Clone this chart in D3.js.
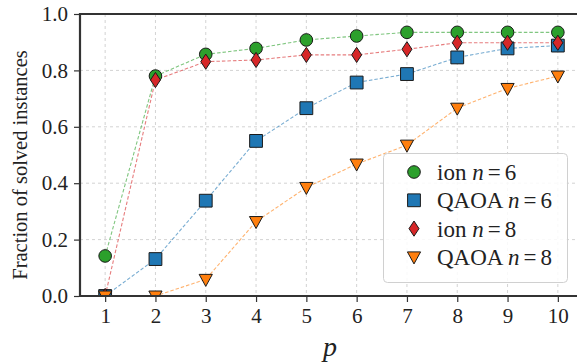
<!DOCTYPE html>
<html>
<head>
<meta charset="utf-8">
<script src="https://cdn.jsdelivr.net/npm/d3@7"></script>
<style>
  html, body { margin: 0; padding: 0; background: #fff; }
  svg { display: block; font-family: "Liberation Serif", "Times New Roman", serif; }
  svg text { font-family: "Liberation Serif", "Times New Roman", serif !important; }
</style>
</head>
<body>
<svg id="chart" width="577" height="362"></svg>
<script>
// ---- data ----
const pValues = [1, 2, 3, 4, 5, 6, 7, 8, 9, 10];
const ionN6   = [0.142, 0.78, 0.857, 0.878, 0.908, 0.922, 0.935, 0.935, 0.935, 0.935];
const qaoaN6  = [0.0, 0.131, 0.338, 0.55, 0.666, 0.757, 0.787, 0.846, 0.878, 0.888];
const ionN8   = [0.0, 0.766, 0.831, 0.837, 0.855, 0.855, 0.875, 0.898, 0.898, 0.898];
const qaoaN8  = [0.0, 0.0, 0.059, 0.264, 0.385, 0.468, 0.535, 0.666, 0.736, 0.78];
const yTicks  = [0.0, 0.2, 0.4, 0.6, 0.8, 1.0];
const xTicks  = [1, 2, 3, 4, 5, 6, 7, 8, 9, 10];
const seriesNames = ["ion", "QAOA", "ion", "QAOA"];
const seriesN = ["6", "6", "8", "8"];

const series = [
  { name: seriesNames[0], n: seriesN[0], values: ionN6,  color: "#2ca02c", marker: "circle" },
  { name: seriesNames[1], n: seriesN[1], values: qaoaN6, color: "#1f77b4", marker: "square" },
  { name: seriesNames[2], n: seriesN[2], values: ionN8,  color: "#d62728", marker: "diamond" },
  { name: seriesNames[3], n: seriesN[3], values: qaoaN8, color: "#ff7f0e", marker: "triangle" }
];

const svg = d3.select("#chart");
const pL = 80, pR = 583, pT = 14, pB = 296;
const x = d3.scaleLinear().domain([0.5, 10.5]).range([pL, pR]);
const y = d3.scaleLinear().domain([0, 1]).range([pB, pT]);

// clip
svg.append("defs").append("clipPath").attr("id", "plotclip")
  .append("rect").attr("x", pL).attr("y", pT).attr("width", pR - pL).attr("height", pB - pT);

// grid
const grid = svg.append("g");
grid.selectAll("line.gx").data(xTicks).enter().append("line")
  .attr("x1", d => x(d)).attr("x2", d => x(d)).attr("y1", pT).attr("y2", pB)
  .attr("stroke", "#d3d3d3").attr("stroke-width", 1).attr("stroke-dasharray", "3,3");
grid.selectAll("line.gy").data(yTicks).enter().append("line")
  .attr("x1", pL).attr("x2", pR).attr("y1", d => y(d)).attr("y2", d => y(d))
  .attr("stroke", "#d3d3d3").attr("stroke-width", 1).attr("stroke-dasharray", "3,3");

// marker paths
function markerPath(type) {
  switch (type) {
    case "circle": return d3.symbol(d3.symbolCircle, Math.PI * 6.3 * 6.3)();
    case "square": return "M-6.4,-6.4L6.4,-6.4L6.4,6.4L-6.4,6.4Z";
    case "diamond": return "M0,-7.6L5,0L0,7.6L-5,0Z";
    case "triangle": return "M-6.6,-5L6.6,-5L0,7Z";
  }
}

const plot = svg.append("g").attr("clip-path", "url(#plotclip)");
const line = d3.line().x((d, i) => x(pValues[i])).y(d => y(d));

series.forEach(s => {
  plot.append("path").datum(s.values)
    .attr("d", line)
    .attr("fill", "none")
    .attr("stroke", s.color)
    .attr("stroke-opacity", 0.6)
    .attr("stroke-width", 1.1)
    .attr("stroke-dasharray", "3.5,2");
});
series.forEach(s => {
  plot.selectAll(null).data(s.values).enter().append("path")
    .attr("d", markerPath(s.marker))
    .attr("transform", (d, i) => `translate(${x(pValues[i])},${y(d)})`)
    .attr("fill", s.color)
    .attr("stroke", "#1a1a1a")
    .attr("stroke-width", 1);
});

// spines
const spineColor = "#333";
svg.append("line").attr("x1", pL).attr("x2", pL).attr("y1", pT - 1).attr("y2", pB + 1)
  .attr("stroke", spineColor).attr("stroke-width", 2.2);
svg.append("line").attr("x1", pL - 1).attr("x2", pR).attr("y1", pB).attr("y2", pB)
  .attr("stroke", spineColor).attr("stroke-width", 2.2);
svg.append("line").attr("x1", pL - 1).attr("x2", pR).attr("y1", pT).attr("y2", pT)
  .attr("stroke", spineColor).attr("stroke-width", 2.2);

// axes
const xAxis = d3.axisBottom(x).tickValues(xTicks).tickSize(5).tickPadding(6).tickFormat(d3.format("d"));
const gx = svg.append("g").attr("transform", `translate(0,${pB + 1})`).call(xAxis);
gx.attr("font-family", null).attr("font-size", null);
gx.select(".domain").remove();
gx.selectAll(".tick line").attr("stroke", spineColor).attr("stroke-width", 1.2);
gx.selectAll(".tick text").style("font-size", "21px").attr("fill", "#222");

const yAxis = d3.axisLeft(y).tickValues(yTicks).tickSize(5).tickPadding(6).tickFormat(d3.format(".1f"));
const gy = svg.append("g").attr("transform", `translate(${pL - 1},0)`).call(yAxis);
gy.attr("font-family", null).attr("font-size", null);
gy.select(".domain").remove();
gy.selectAll(".tick line").attr("stroke", spineColor).attr("stroke-width", 1.2);
gy.selectAll(".tick text").style("font-size", "21px").attr("fill", "#222");

// axis labels
svg.append("text")
  .attr("transform", `translate(27,165) rotate(-90)`)
  .attr("text-anchor", "middle")
  .style("font-size", "20.5px").attr("fill", "#222")
  .text("Fraction of solved instances");
svg.append("text")
  .attr("x", 330).attr("y", 356)
  .attr("text-anchor", "middle")
  .style("font-size", "28px").attr("font-style", "italic").attr("fill", "#222")
  .text("p");

// legend
const lg = svg.append("g");
lg.append("rect").attr("x", 383.5).attr("y", 153.5).attr("width", 184).attr("height", 129)
  .attr("rx", 4).attr("fill", "#fff").attr("fill-opacity", 0.85)
  .attr("stroke", "#d0d0d0").attr("stroke-width", 1);
series.forEach((s, i) => {
  const cy = 172 + i * 28.3;
  lg.append("path").attr("d", markerPath(s.marker))
    .attr("transform", `translate(414,${cy})`)
    .attr("fill", s.color).attr("stroke", "#1a1a1a").attr("stroke-width", 1);
  const t = lg.append("text").attr("x", 437).attr("y", cy + 8).style("font-size", "23px").attr("fill", "#222");
  t.append("tspan").text(s.name + " ");
  t.append("tspan").attr("font-style", "italic").text("n");
  t.append("tspan").attr("dx", 4).text("=");
  t.append("tspan").attr("dx", 4).text(s.n);
});
</script>
</body>
</html>
